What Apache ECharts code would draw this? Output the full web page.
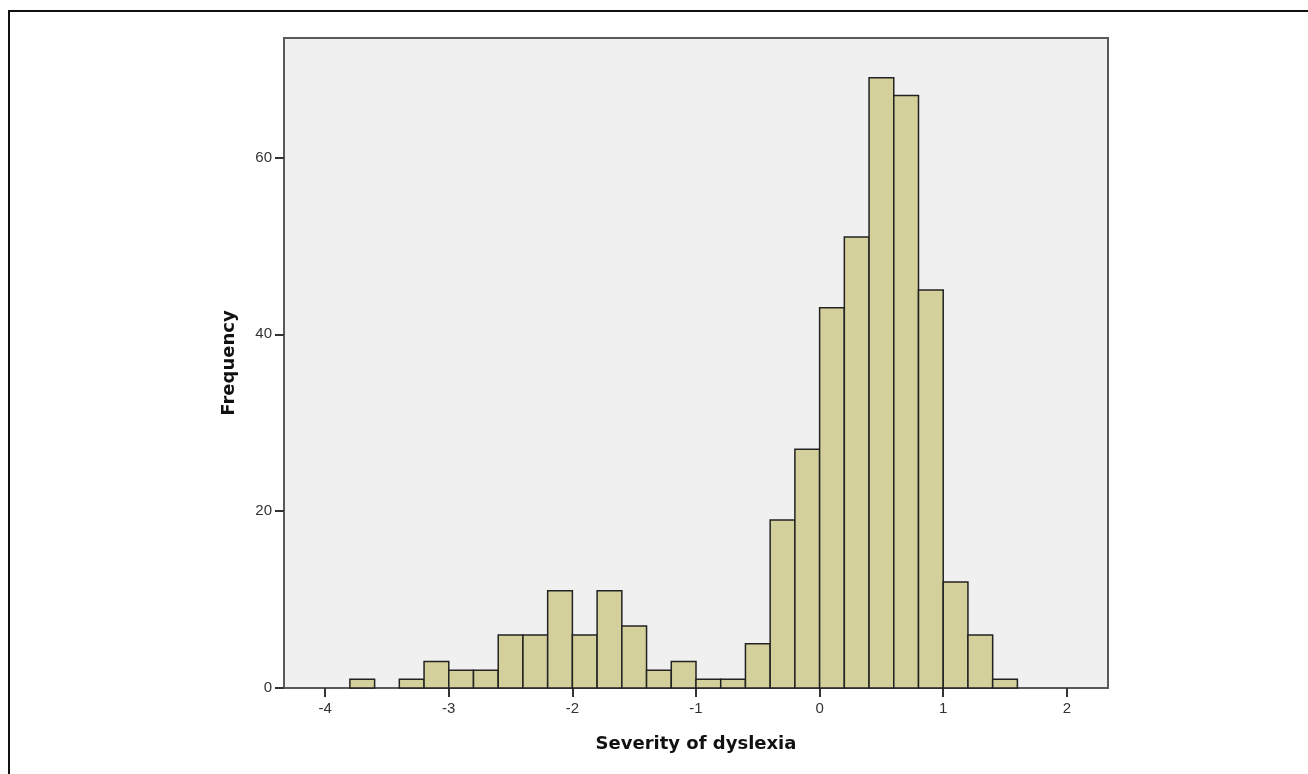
<!DOCTYPE html>
<html>
<head>
<meta charset="utf-8">
<script src="https://cdn.jsdelivr.net/npm/echarts@6/dist/echarts.min.js"></script>
<style>
  html, body { margin: 0; padding: 0; background: #fff; }
  #chart { width: 1308px; height: 774px; }
</style>
</head>
<body>
<div id="chart"></div>
<script>
// histogram bins (width 0.2) and their counts
const binStart = [-3.8, -3.6, -3.4, -3.2, -3.0, -2.8, -2.6, -2.4, -2.2, -2.0, -1.8, -1.6, -1.4, -1.2,
  -1.0, -0.8, -0.6, -0.4, -0.2, 0.0, 0.2, 0.4, 0.6, 0.8, 1.0, 1.2, 1.4]
const binWidth = 0.2
const counts = [1, 0, 1, 3, 2, 2, 6, 6, 11, 6, 11, 7, 2, 3,
  1, 1, 5, 19, 27, 43, 51, 69, 67, 45, 12, 6, 1]
const xTicks = [-4, -3, -2, -1, 0, 1, 2]
const yTicks = [0, 20, 40, 60]

const bins = binStart.map((s, i) => [s, +(s + binWidth).toFixed(2), counts[i]])

const chart = echarts.init(document.getElementById('chart'))
chart.setOption({
  animation: false,
  backgroundColor: '#fff',
  textStyle: { fontFamily: 'Liberation Sans' },
  graphic: [{
    // outer frame
    type: 'rect',
    shape: { x: 9, y: 11, width: 1330, height: 800 },
    style: { fill: 'none', stroke: '#111', lineWidth: 2 },
    silent: true
  }],
  grid: {
    left: 284, right: 200, top: 38, bottom: 86,
    show: true,
    backgroundColor: '#f0f0f0',
    borderColor: '#5a5a5a',
    borderWidth: 2
  },
  xAxis: {
    type: 'value',
    min: -4.333,
    max: 2.333,
    name: 'Severity of dyslexia',
    nameLocation: 'middle',
    nameGap: 47,
    nameTextStyle: { fontFamily: 'DejaVu Sans', fontWeight: 'bold', fontSize: 18, color: '#111' },
    axisLine: { show: false, onZero: false },
    axisTick: { show: true, customValues: xTicks, length: 9, lineStyle: { color: '#333', width: 2 } },
    axisLabel: { customValues: xTicks, margin: 13, fontSize: 15, color: '#333' },
    splitLine: { show: false }
  },
  yAxis: {
    type: 'value',
    min: 0,
    max: 73.5,
    interval: 20,
    name: 'Frequency',
    nameLocation: 'middle',
    nameGap: 46,
    nameTextStyle: { fontFamily: 'DejaVu Sans', fontWeight: 'bold', fontSize: 18, color: '#111' },
    axisLine: { show: false, onZero: false },
    axisTick: { show: true, customValues: yTicks, length: 9, lineStyle: { color: '#333', width: 2 } },
    axisLabel: { customValues: yTicks, margin: 12, fontSize: 15, color: '#333' },
    splitLine: { show: false }
  },
  series: [{
    type: 'custom',
    data: bins,
    encode: { x: [0, 1], y: 2 },
    renderItem: function (params, api) {
      if (!api.value(2)) return
      const p0 = api.coord([api.value(0), 0])
      const p1 = api.coord([api.value(1), api.value(2)])
      return {
        type: 'rect',
        shape: { x: p0[0], y: p1[1], width: p1[0] - p0[0], height: p0[1] - p1[1] },
        style: { fill: '#d4d09b', stroke: '#222', lineWidth: 1.5 }
      }
    }
  }]
})
</script>
</body>
</html>
